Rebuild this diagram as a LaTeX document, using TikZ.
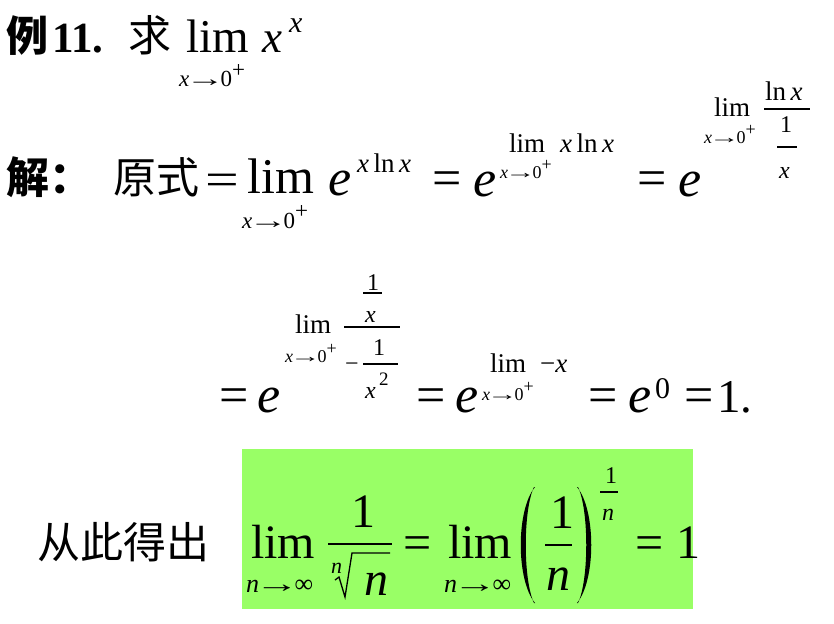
\documentclass[tikz,border=0pt]{standalone}
\usepackage{fontspec}
\usepackage{graphicx}
\setmainfont{Liberation Serif}[ItalicFont={Liberation Serif Italic},BoldFont={Liberation Serif Bold}]
\newfontfamily\cjk{Noto Sans CJK SC}
\definecolor{boxgreen}{RGB}{153,255,102}
\newcommand\fs[1]{\fontsize{#1}{#1}\selectfont}
\newcommand\myarr{\kern-.17em\scalebox{1.7}[1]{→}\kern-.17em}
\newcommand\supplus{\raisebox{.42em}{+}}
\newcommand\xto{\textit{x}\myarr 0\supplus}
\begin{document}
\begin{tikzpicture}[x=1pt,y=-1pt,
  t/.style={anchor=base west,inner sep=0pt},
  bar/.style={line width=1.3pt}]
\useasboundingbox (0,0) rectangle (834,623);
% line 1
\node[t,font=\cjk\bfseries\fs{42}] (li) at (6,52) {例};
\node[t,font=\bfseries\fs{43}] (num) at (52,53) {11.};
\node[t,font=\cjk\fs{43}] (qiu) at (128,52) {求};
\node[t,font=\fs{47}] (lim1) at (186,53) {lim};
\node[t,font=\fs{23}] (sub1) at (179,87) {\xto};
\node[t,font=\itshape\fs{45}] (x1) at (262,53) {x};
\node[t,font=\itshape\fs{30}] (x1s) at (289,33) {x};
% line 2
\node[t,font=\cjk\bfseries\fs{43}] (jie) at (6,193) {解：};
\node[t,font=\cjk\fs{43}] (yuan) at (113,193) {原式};
\node[t,font=\fs{52}] (eq1) at (205,195) {\scalebox{1.15}[.9]{=}};
\node[t,font=\fs{50}] (lim2) at (247,193) {lim};
\node[t,font=\fs{23}] (sub2) at (242,228) {\xto};
\node[t,font=\itshape\fs{52}] (e1) at (328,195) {e};
\node[t,font=\fs{27}] (ex1) at (357,172) {\textit{x}\,ln\,\textit{x}};
\node[t,font=\fs{52}] (eq2) at (432,195) {=};
\node[t,font=\itshape\fs{52}] (e2) at (473,196) {e};
\node[t,font=\fs{27}] (lim3) at (509,152) {lim};
\node[t,font=\fs{18}] (sub3) at (500,178) {\xto};
\node[t,font=\fs{27}] (ex2) at (560,152) {\textit{x}\,ln\,\textit{x}};
\node[t,font=\fs{52}] (eq3) at (637,195) {=};
\node[t,font=\itshape\fs{52}] (e3) at (678,196) {e};
\node[t,font=\fs{27}] (lim4) at (714,117) {lim};
\node[t,font=\fs{18}] (sub4) at (704,143) {\xto};
\node[t,font=\fs{27}] (ln4) at (765,100) {ln\,\textit{x}};
\draw[bar] (764,109) -- (810,109);
\node[t,font=\fs{24}] (one4) at (780,132) {1};
\draw[bar] (777,147) -- (797,147);
\node[t,font=\itshape\fs{24}] (x4) at (779,178) {x};
% line 3
\node[t,font=\fs{52}] (eq4) at (219,412) {=};
\node[t,font=\itshape\fs{52}] (e4) at (257,412) {e};
\node[t,font=\fs{27}] (lim5) at (295,333) {lim};
\node[t,font=\fs{18}] (sub5) at (285,362) {\xto};
\draw[bar] (344,327) -- (400,327);
\node[t,font=\fs{24}] (one5) at (367,290) {1};
\draw[bar] (363,293) -- (382,293);
\node[t,font=\itshape\fs{24}] (x5) at (365,322) {x};
\node[t,font=\fs{24}] (minus5) at (345,371) {−};
\node[t,font=\fs{24}] (one6) at (373,355) {1};
\draw[bar] (363,364) -- (398,364);
\node[t,font=\itshape\fs{24}] (x6) at (365,398) {x};
\node[t,font=\fs{19}] (two6) at (379,385) {2};
\node[t,font=\fs{52}] (eq5) at (416,412) {=};
\node[t,font=\itshape\fs{52}] (e5) at (455,412) {e};
\node[t,font=\fs{27}] (lim6) at (490,372) {lim};
\node[t,font=\fs{18}] (sub6) at (482,400) {\xto};
\node[t,font=\fs{27}] (mx6) at (540,372) {−\textit{x}};
\node[t,font=\fs{52}] (eq6) at (588,412) {=};
\node[t,font=\itshape\fs{52}] (e6) at (628,412) {e};
\node[t,font=\fs{30}] (zero6) at (655,398) {0};
\node[t,font=\fs{52}] (eq7) at (684,412) {=};
\node[t,font=\fs{47}] (one7) at (717,412) {1.};
% line 4
\fill[boxgreen] (242,449) rectangle (693,609);
\node[t,font=\cjk\fs{43}] (cong) at (37,558) {从此得出};
\node[t,font=\fs{48}] (lim7) at (251,558) {lim};
\node[t,font=\fs{26}] (sub7) at (246,592) {\textit{n}\myarr∞};
\node[t,font=\fs{48}] (one8) at (351,527) {1};
\draw[bar] (328,544) -- (392,544);
\node[t,font=\itshape\fs{22}] (idx) at (331,573) {n};
\draw[line width=1.3pt,line join=miter] (335,580) -- (339,577) -- (345,597) -- (352,553) -- (390,553);
\node[t,font=\itshape\fs{48}] (n8) at (364,595) {n};
\node[t,font=\fs{50}] (eq8) at (403,559) {=};
\node[t,font=\fs{48}] (lim8) at (448,558) {lim};
\node[t,font=\fs{26}] (sub8) at (444,592) {\textit{n}\myarr∞};
\fill (535,487) .. controls (516,510) and (516,580) .. (535,603)
  -- (534,603) .. controls (523,580) and (523,510) .. (534,487) -- cycle;
\fill (577,487) .. controls (596,510) and (596,580) .. (577,603)
  -- (578,603) .. controls (589,580) and (589,510) .. (578,487) -- cycle;
\node[t,font=\fs{48}] (one9) at (550,528) {1};
\draw[bar] (545,545) -- (572,545);
\node[t,font=\itshape\fs{48}] (n9) at (546,590) {n};
\node[t,font=\fs{24}] (one10) at (605,483) {1};
\draw[bar] (600,492) -- (618,492);
\node[t,font=\itshape\fs{24}] (n10) at (602,520) {n};
\node[t,font=\fs{50}] (eq9) at (635,559) {=};
\node[t,font=\fs{48}] (one11) at (676,558) {1};
\end{tikzpicture}
\end{document}
